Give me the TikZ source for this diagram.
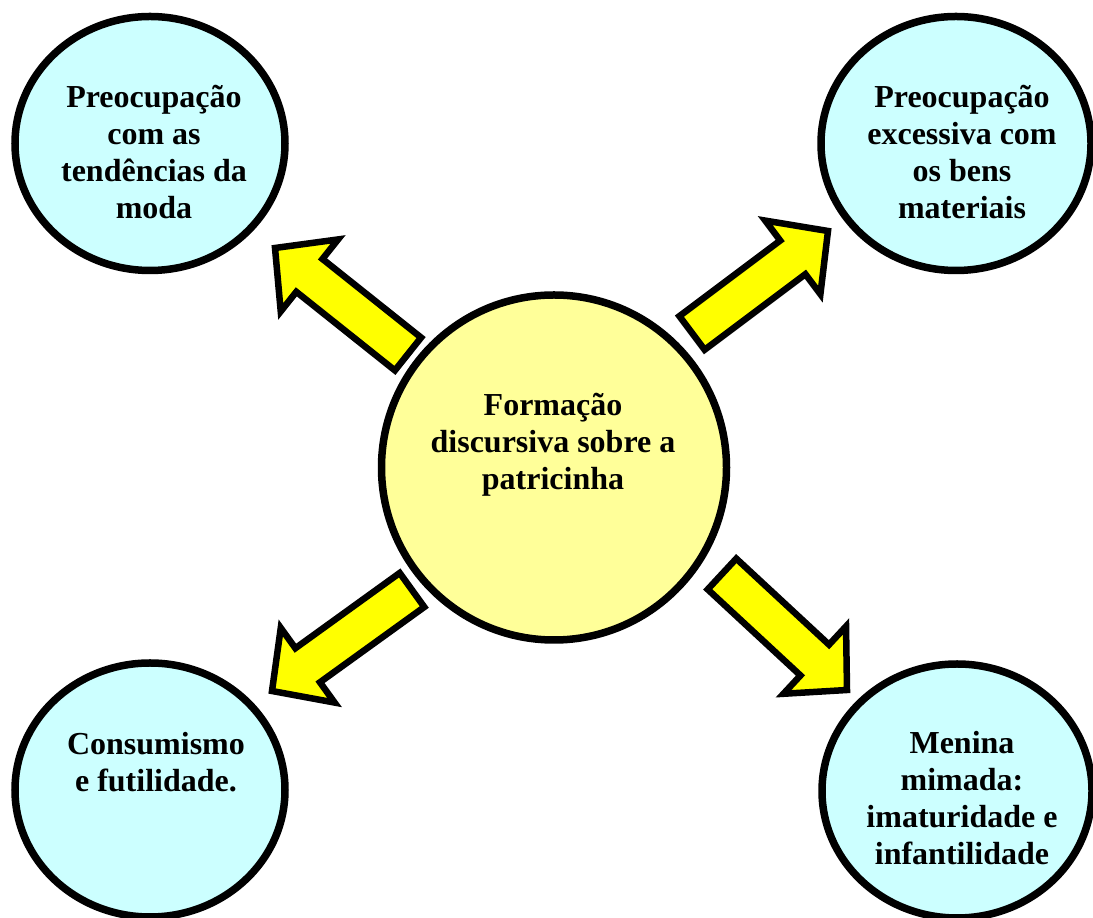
\documentclass[tikz,border=0pt]{standalone}
\usepackage{fontspec}
\setmainfont{Liberation Serif}
\usetikzlibrary{positioning,calc,shapes.geometric}
\definecolor{bubblecyan}{RGB}{204,255,255}
\definecolor{hubyellow}{RGB}{255,255,153}
\definecolor{arrowyellow}{RGB}{255,255,0}
\tikzset{
  bubble/.style={ellipse, draw=black, line width=7.5pt, fill=bubblecyan,
    minimum width=270pt, minimum height=254pt, inner sep=0pt},
  hub/.style={circle, draw=black, line width=7.5pt, fill=hubyellow,
    minimum size=345pt, inner sep=0pt},
  bubbletext/.style={align=center, inner sep=0pt,
    font=\fontsize{32}{37}\selectfont\bfseries},
  arrowstyle/.style={draw=black, line width=6.5pt, fill=arrowyellow,
    line join=miter, miter limit=10}
}
% block arrow from tail #1 to tip #2
\newcommand{\blockarrow}[2]{%
  \coordinate (#2-base) at ($(#2)!44pt!(#1)$);
  \draw[arrowstyle] ($(#1)!21pt!90:(#2)$) -- ($(#2-base)!21pt!90:(#2)$)
    -- ($(#2-base)!46pt!90:(#2)$) -- (#2) -- ($(#2-base)!46pt!-90:(#2)$)
    -- ($(#2-base)!21pt!-90:(#2)$) -- ($(#1)!21pt!-90:(#2)$) -- cycle;}

\begin{document}
\begin{tikzpicture}[x=1pt, y=1pt]
  \useasboundingbox (0,0) rectangle (1093,918);
  % outer circles
  \node[bubble] (moda) at (150,774.5) {};
  \node[bubble] (bens) at (956,774.5) {};
  \node[bubble] (consumo) at (150,128) {};
  \node[bubble] (menina) at (957,127) {};
  \node[bubbletext] (moda-txt) at (154,766)
    {Preocupação\\com as\\tendências da\\moda};
  \node[bubbletext] (bens-txt) at (962,766)
    {Preocupação\\excessiva com\\os bens\\materiais};
  \node[bubbletext] (consumo-txt) at (156,156)
    {Consumismo\\e futilidade.};
  \node[bubbletext] (menina-txt) at (962,120)
    {Menina\\mimada:\\imaturidade e\\infantilidade};
  % arrows
  \coordinate (a1s) at (408,564); \coordinate (a1e) at (275,670);
  \coordinate (a2s) at (692,585); \coordinate (a2e) at (828,687);
  \coordinate (a3s) at (412,328); \coordinate (a3e) at (272,227);
  \coordinate (a4s) at (722,344); \coordinate (a4e) at (847,228);
  \blockarrow{a1s}{a1e}
  \blockarrow{a2s}{a2e}
  \blockarrow{a3s}{a3e}
  \blockarrow{a4s}{a4e}
  % centre
  \node[hub] (hub) at (554,450.5) {};
  \node[bubbletext] (hub-txt) at (553,473)
    {Formação\\discursiva sobre a\\patricinha};
\end{tikzpicture}
\end{document}
